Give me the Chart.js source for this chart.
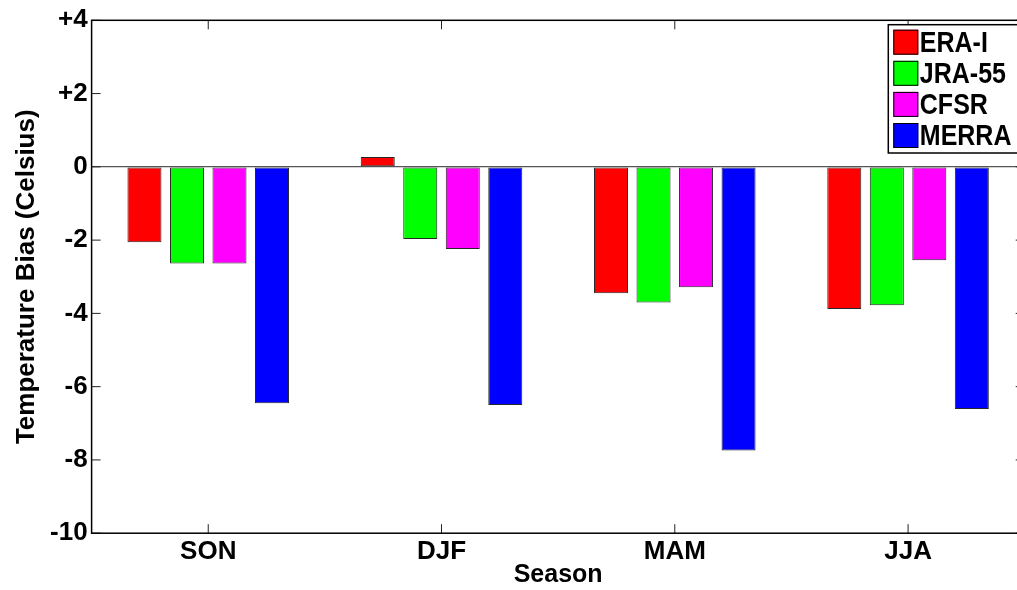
<!DOCTYPE html>
<html>
<head>
<meta charset="utf-8">
<script src="https://cdn.jsdelivr.net/npm/chart.js@4/dist/chart.umd.min.js"></script>
<style>
	html, body { margin: 0; padding: 0; background: #fff; overflow: hidden; }
	canvas { display: block; }
</style>
</head>
<body>
<canvas id="graficoViesTemperatura" width="1032" height="590"></canvas>
<script>
var estacoes = ['SON', 'DJF', 'MAM', 'JJA'];
var reanalises = ['ERA-I', 'JRA-55', 'CFSR', 'MERRA'];
var cores = ['#ff0000', '#00ff00', '#ff00ff', '#0000ff'];

var viesEraI = [-2.06, 0.27, -3.45, -3.88];
var viesJra55 = [-2.64, -1.97, -3.70, -3.78];
var viesCfsr = [-2.64, -2.24, -3.29, -2.55];
var viesMerra = [-6.45, -6.50, -7.74, -6.61];

var eixoYMin = -10;
var eixoYMax = 4;
var eixoYPasso = 2;

var NGTICAE = NGTICAE || {};

NGTICAE.GraficoViesTemperatura = (function() {

	var fonte = 'Liberation Sans, Arial, Helvetica, sans-serif';

	function GraficoViesTemperatura() {
		this.ctx = document.getElementById('graficoViesTemperatura').getContext('2d');
	}

	GraficoViesTemperatura.prototype.iniciar = function() {
		var series = [viesEraI, viesJra55, viesCfsr, viesMerra];
		var datasets = series.map(function(valores, i) {
			return {
				label: reanalises[i],
				backgroundColor: cores[i],
				borderColor: 'rgba(0,0,0,0.85)',
				borderWidth: 1,
				borderSkipped: false,
				data: valores
			};
		});

		new Chart(this.ctx, {
			type: 'bar',
			data: {
				labels: estacoes,
				datasets: datasets
			},
			options: {
				responsive: false,
				animation: false,
				devicePixelRatio: 1,
				categoryPercentage: 0.729,
				barPercentage: 0.8,
				layout: { padding: { top: 20.3, right: 7.3, left: 0, bottom: 0 } },
				plugins: {
					legend: { display: false },
					tooltip: { enabled: false },
					legendaCaixa: { x: 888.3, y: 24.7, altura: 128.3 }
				},
				scales: {
					x: {
						grid: { display: false, drawTicks: false, tickLength: 0 },
						border: { display: false },
						ticks: {
							color: '#000',
							padding: 3,
							font: { family: fonte, size: 26, weight: 'bold' }
						},
						title: {
							display: true,
							text: 'Season',
							color: '#000',
							padding: { top: 0, bottom: 0 },
							font: { family: fonte, size: 25, weight: 'bold' }
						},
						afterFit: function(escala) { escala.height = 56.8; }
					},
					y: {
						min: eixoYMin,
						max: eixoYMax,
						grid: {
							drawTicks: false,
							tickLength: 0,
							lineWidth: 1.2,
							// so a linha do zero
							color: function(c) { return c.tick && c.tick.value === 0 ? '#555' : 'rgba(0,0,0,0)'; }
						},
						border: { display: false },
						ticks: {
							stepSize: eixoYPasso,
							color: '#000',
							padding: 4,
							font: { family: fonte, size: 26, weight: 'bold' },
							callback: function(v) { return v > 0 ? '+' + v : '' + v; }
						},
						title: {
							display: true,
							text: 'Temperature Bias (Celsius)',
							color: '#000',
							padding: { top: 11, bottom: 0 },
							font: { family: fonte, size: 26, weight: 'bold' }
						},
						afterFit: function(escala) { escala.width = 91.6; }
					}
				}
			},
			plugins: [moldura, legendaCaixa]
		});
	};

	// moldura do eixo com marcas para dentro
	var moldura = {
		id: 'moldura',
		afterDraw: function(chart) {
			var ctx = chart.ctx;
			var a = chart.chartArea;
			var tam = 9;
			ctx.save();
			ctx.strokeStyle = '#222';
			ctx.lineWidth = 1;
			chart.scales.x.ticks.forEach(function(t, i) {
				var px = chart.scales.x.getPixelForTick(i);
				ctx.beginPath();
				ctx.moveTo(px, a.bottom); ctx.lineTo(px, a.bottom - tam);
				ctx.moveTo(px, a.top); ctx.lineTo(px, a.top + tam);
				ctx.stroke();
			});
			chart.scales.y.ticks.forEach(function(t, i) {
				var py = chart.scales.y.getPixelForTick(i);
				ctx.beginPath();
				ctx.moveTo(a.left, py); ctx.lineTo(a.left + tam, py);
				ctx.moveTo(a.right, py); ctx.lineTo(a.right - tam, py);
				ctx.stroke();
			});
			ctx.strokeStyle = '#000';
			ctx.lineWidth = 1.5;
			ctx.strokeRect(a.left, a.top, a.right - a.left, a.bottom - a.top);
			ctx.restore();
		}
	};

	var legendaCaixa = {
		id: 'legendaCaixa',
		afterDraw: function(chart, args, opcoes) {
			var ctx = chart.ctx;
			var passo = 31.1;
			ctx.save();
			ctx.fillStyle = '#fff';
			ctx.fillRect(opcoes.x, opcoes.y, chart.width - opcoes.x + 10, opcoes.altura);
			ctx.strokeStyle = '#000';
			ctx.lineWidth = 1.5;
			ctx.strokeRect(opcoes.x, opcoes.y, chart.width - opcoes.x + 10, opcoes.altura);
			chart.data.datasets.forEach(function(ds, i) {
				var y0 = opcoes.y + 5 + i * passo;
				ctx.fillStyle = ds.backgroundColor;
				ctx.fillRect(opcoes.x + 5, y0, 25, 25);
				ctx.strokeStyle = '#000';
				ctx.lineWidth = 1;
				ctx.strokeRect(opcoes.x + 5.5, y0 + 0.5, 24, 24);
				ctx.save();
				ctx.translate(opcoes.x + 31.5, y0 + 12.5);
				ctx.scale(1, 1.2);
				ctx.fillStyle = '#000';
				ctx.font = 'bold 25px ' + fonte;
				ctx.textBaseline = 'middle';
				ctx.fillText(ds.label, 0, 1);
				ctx.restore();
			});
			ctx.restore();
		}
	};

	return GraficoViesTemperatura;

}());

(function() {
	var graficoViesTemperatura = new NGTICAE.GraficoViesTemperatura();
	graficoViesTemperatura.iniciar();
}());
</script>
</body>
</html>
